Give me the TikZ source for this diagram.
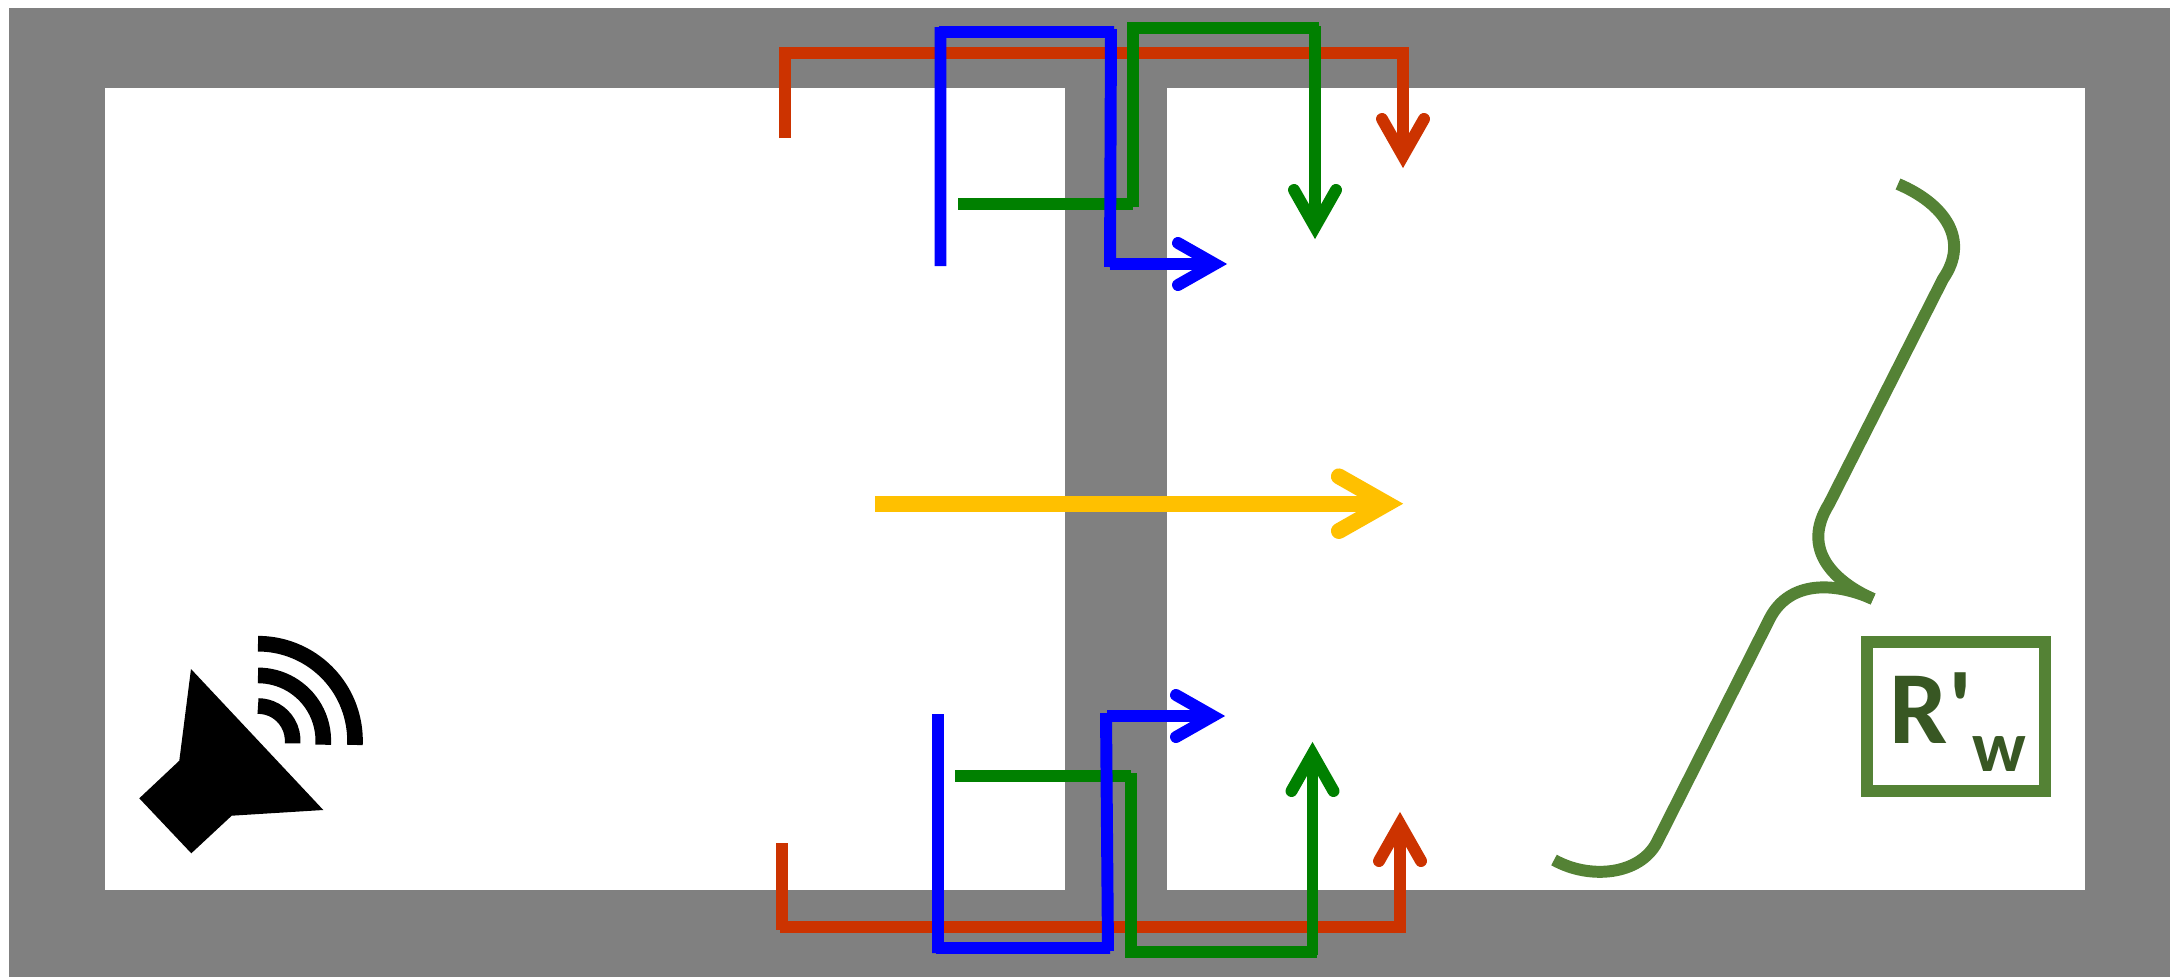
\documentclass[tikz,border=0pt]{standalone}
\usepackage{fontspec}
\usetikzlibrary{calc}
\newfontfamily\labelfont{Carlito}
\definecolor{wallgray}{HTML}{808080}
\definecolor{flankred}{HTML}{CC3300}
\definecolor{flankblue}{HTML}{0000FF}
\definecolor{flankgreen}{HTML}{008000}
\definecolor{directyellow}{HTML}{FFC000}
\definecolor{bracegreen}{HTML}{548235}
\definecolor{textgreen}{HTML}{385723}
\tikzset{
  redline/.style={draw=flankred, line width=6.8pt},
  blueline/.style={draw=flankblue, line width=6.8pt},
  greenline/.style={draw=flankgreen, line width=6.8pt},
  yellowline/.style={draw=directyellow, line width=9.07pt},
  braceline/.style={draw=bracegreen, line width=6.8pt},
  pics/openhead/.style={code={\draw[line cap=round] (-37,-21)--(0,0)--(-37,21);}}
}
\begin{document}
\begin{tikzpicture}[x=0.02cm, y=-0.02cm]
  \useasboundingbox (0,0) rectangle (2170,977);
  % walls
  \fill[wallgray] (9,8) rectangle (2170,977);
  \fill[white] (105,88) rectangle (1065,890);
  \fill[white] (1167,88) rectangle (2085,890);
  % red path
  \coordinate (Ra) at (785,138);
  \coordinate (Rb) at (785,47);
  \coordinate (Rc) at (783,53);
  \coordinate (Rd) at (1409,53);
  \coordinate (Re) at (1403,47);
  \coordinate (Rf) at (1403,156);
  \coordinate (Rg) at (782,843);
  \coordinate (Rh) at (782,930);
  \coordinate (Ri) at (780,927);
  \coordinate (Rj) at (1406,927);
  \coordinate (Rk) at (1400,933);
  \coordinate (Rl) at (1400,824);
  \draw[redline] (Ra)--(Rb) (Rc)--(Rd) (Re)--(Rf);
  \draw[redline] (Rg)--(Rh) (Ri)--(Rj) (Rk)--(Rl);
  \pic[redline, rotate=-90] at (Rf) {openhead};
  \pic[redline, rotate=90] at (Rl) {openhead};
  % green path
  \coordinate (Ga) at (958,204);
  \coordinate (Gb) at (1133,204);
  \coordinate (Gc) at (1133,207);
  \coordinate (Gd) at (1133,22);
  \coordinate (Ge) at (1131,28);
  \coordinate (Gf) at (1319,28);
  \coordinate (Gg) at (1315,26);
  \coordinate (Gh) at (1315,227);
  \coordinate (Gi) at (955,776);
  \coordinate (Gj) at (1131,776);
  \coordinate (Gk) at (1131,773);
  \coordinate (Gl) at (1131,958);
  \coordinate (Gm) at (1125,952);
  \coordinate (Gn) at (1317,952);
  \coordinate (Go) at (1312.5,955);
  \coordinate (Gp) at (1312.5,754);
  \draw[greenline] (Ga)--(Gb) (Gc)--(Gd) (Ge)--(Gf) (Gg)--(Gh);
  \draw[greenline] (Gi)--(Gj) (Gk)--(Gl) (Gm)--(Gn) (Go)--(Gp);
  \pic[greenline, rotate=-90] at (Gh) {openhead};
  \pic[greenline, rotate=90] at (Gp) {openhead};
  % blue path
  \coordinate (Ba) at (940.5,266);
  \coordinate (Bb) at (940.5,27);
  \coordinate (Bc) at (939,32);
  \coordinate (Bd) at (1114,32);
  \coordinate (Be) at (1111,29);
  \coordinate (Bf) at (1110,267);
  \coordinate (Bg) at (1110,264);
  \coordinate (Bh) at (1215,264);
  \coordinate (Bi) at (938,714);
  \coordinate (Bj) at (938,953);
  \coordinate (Bk) at (936,948);
  \coordinate (Bl) at (1110,948);
  \coordinate (Bm) at (1108,951);
  \coordinate (Bn) at (1106,713);
  \coordinate (Bo) at (1107,716);
  \coordinate (Bp) at (1213,716);
  \draw[blueline] (Ba)--(Bb) (Bc)--(Bd) (Be)--(Bf) (Bg)--(Bh);
  \draw[blueline] (Bi)--(Bj) (Bk)--(Bl) (Bm)--(Bn) (Bo)--(Bp);
  \pic[blueline] at (Bh) {openhead};
  \pic[blueline] at (Bp) {openhead};
  % direct path
  \coordinate (Ya) at (875,503.7);
  \coordinate (Yb) at (1387,503.7);
  \draw[yellowline] (Ya)--(Yb);
  \pic[yellowline, scale=1.3] at (Yb) {openhead};
  % loudspeaker
  \fill (191,669)--(179.3,760.7)--(139.3,798.3)--(191.3,853.3)--(231.7,815.7)--(323.3,810)--cycle;
  \coordinate (W) at (258,740.7);
  \foreach \r/\e in {34.7/4.4, 65.3/3.5, 97/2.5}
    \draw[line width=8.9pt] ($(W)+(0,-\r)$) arc[start angle=-90, end angle=\e, radius=\r];
  % brace and label
  \draw[braceline] (1898,184) .. controls (1945,204) and (1970,240) .. (1943,279)
    -- (1829,504) .. controls (1800,550) and (1835,582) .. (1873,599);
  \draw[braceline] (1873,599) .. controls (1835,582) and (1790,580) .. (1770,618)
    -- (1657,842) .. controls (1640,875) and (1590,880) .. (1554,860);
  \draw[braceline] (1867,642) rectangle (2045,791);
  \node[text=textgreen, font=\labelfont\bfseries, inner sep=0pt] (Rw) at (1958,722)
    {\fontsize{59}{60}\selectfont R'\raisebox{-15.5pt}{\fontsize{41}{42}\selectfont w}};
\end{tikzpicture}
\end{document}
